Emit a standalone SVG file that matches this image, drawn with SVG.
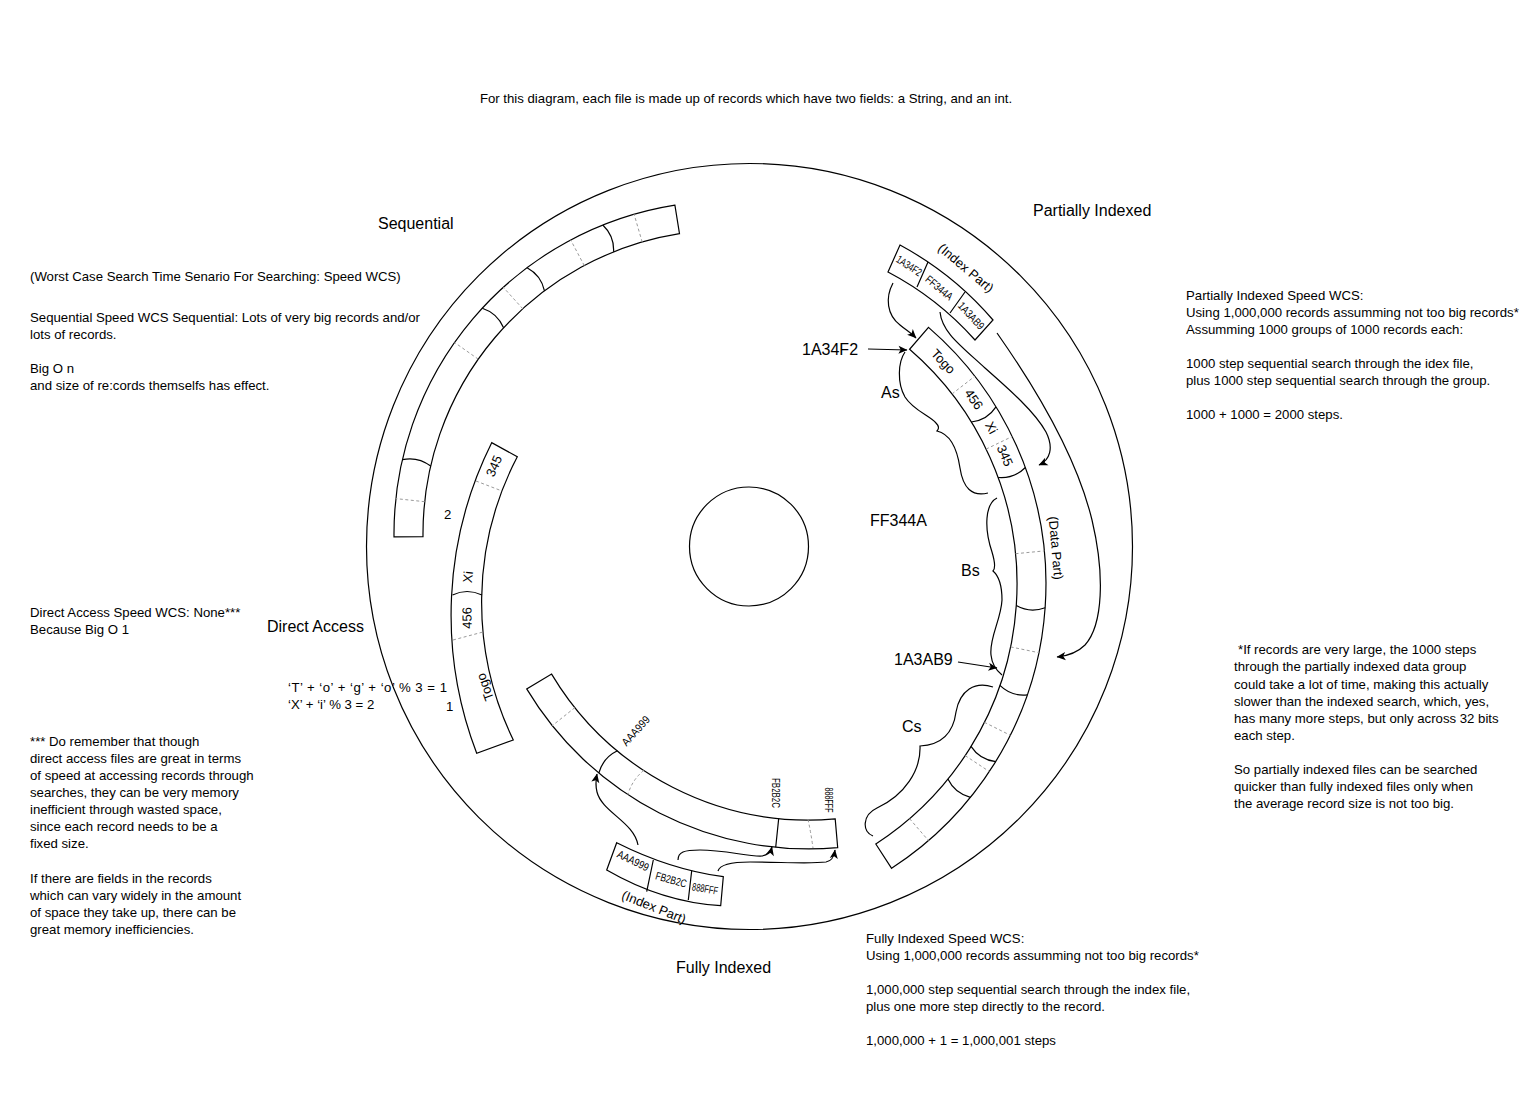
<svg xmlns="http://www.w3.org/2000/svg" width="1523" height="1118" viewBox="0 0 1523 1118">
<defs>
<style>
.ln{fill:none;stroke:#000;stroke-width:1.2}
.bd{fill:#fff;stroke:#000;stroke-width:1.2}
.ds{fill:none;stroke:#9a9a9a;stroke-width:1;stroke-dasharray:3,2.5}
text{font-family:"Liberation Sans",Arial,sans-serif;fill:#000}
.b{font-size:13.2px}
.h{font-size:16px}
.c{font-size:11px;text-anchor:middle}
.m{font-size:13px;text-anchor:middle}
</style>
<marker id="ah" viewBox="0 0 10 10" refX="9.5" refY="5" markerWidth="10" markerHeight="9" markerUnits="userSpaceOnUse" orient="auto">
<path d="M0,0.5 L10,5 L0,9.5 L2.5,5 z" fill="#000"/>
</marker>
</defs>
<rect width="1523" height="1118" fill="#fff"/>

<g id="disk">
<circle cx="749.5" cy="546.5" r="383" class="ln"/>
<circle cx="749" cy="546.5" r="59.5" class="ln"/>
</g>

<g id="sequential-band">
<path class="bd" d="M394,536.9 A333,333 0 0 1 674.9,205.1 L679.5,233.7 A304,304 0 0 0 423,536.6 Z"/>
<path class="ln" d="M613.6,251.9 Q614.4,236.1 602.8,225 M544.5,290.9 Q541.2,275.3 527.1,267.7 M503.6,327.8 Q497.5,313.2 482.3,308.2 M430.7,466.1 Q418.1,456.4 402.4,459.6"/>
<path class="ds" d="M642.2,242.1 L634.1,214.2 M584.3,265.6 L570.7,240 M522.8,308.8 L503.3,287.3 M478.3,359.2 L454.6,342.5 M424.7,501.7 L395.9,498.6"/>
</g>

<g id="direct-band">
<path class="bd" d="M491.7,442.7 A386,386 0 0 0 476.7,753.3 L513.3,740 A315,315 0 0 1 517.3,456.7 Z"/>
<path class="ln" d="M452.5,595 Q467,588 482,595"/>
<path class="ds" d="M476,481 L502,491 M453,640 L483,632"/>
<text class="m" transform="translate(494,466) rotate(-66)" y="4.5">345</text>
<text class="m" transform="translate(468,577) rotate(-84)" y="4.5">Xi</text>
<text class="m" transform="translate(467,618) rotate(-91)" y="4.5">456</text>
<text class="m" transform="translate(485,687) rotate(-110)" y="4.5">Togo</text>
</g>

<g id="fully-indexed-data">
<path class="bd" d="M526.7,688.9 A329,329 0 0 0 837.7,847.7 L835.2,818.9 A300,300 0 0 1 551.6,674.1 Z"/>
<path class="ln" d="M617.4,750.8 Q603.1,757.7 598.8,773.1 M778.7,818.5 L775.7,847.3"/>
<path class="ds" d="M643.8,770.4 Q632,780 627.9,794.7 M574.9,707.6 L552.2,725.7 M808,819.5 Q811,833 813,848"/>
<text class="c" transform="translate(636,731) rotate(-48)" y="3.5" textLength="36" lengthAdjust="spacingAndGlyphs">AAA999</text>
<text class="c" transform="translate(775,793) rotate(90)" y="3.5" textLength="30" lengthAdjust="spacingAndGlyphs">FB2B2C</text>
<text class="c" transform="translate(828,800) rotate(90)" y="3.5" textLength="25" lengthAdjust="spacingAndGlyphs">888FFF</text>
</g>

<g id="fully-indexed-index">
<path class="bd" d="M616.7,842.7 Q670,869.5 723.3,876.7 L720.7,905.7 Q662.3,902.2 606.7,870 Z"/>
<path class="ln" d="M653.3,860 L646.7,891.7 M691.7,870.7 L688.3,900"/>
<text class="c" transform="translate(633,861) rotate(26)" y="3.5" textLength="34" lengthAdjust="spacingAndGlyphs">AAA999</text>
<text class="c" transform="translate(671,880) rotate(16)" y="3.5" textLength="32" lengthAdjust="spacingAndGlyphs">FB2B2C</text>
<text class="c" transform="translate(705,889) rotate(10)" y="3.5" textLength="26" lengthAdjust="spacingAndGlyphs">888FFF</text>
<text class="m" transform="translate(654,907) rotate(22)" y="4.5">(Index Part)</text>
</g>

<g id="partially-indexed-index">
<path class="bd" d="M900,245 Q953.4,273.9 993,320 L975,340 Q937.7,298.1 888,272 Z"/>
<path class="ln" d="M928,262 L917,287 M965,292 L950,313"/>
<text class="c" transform="translate(909,266) rotate(33)" y="3.5" textLength="28" lengthAdjust="spacingAndGlyphs">1A34F2</text>
<text class="c" transform="translate(939,288) rotate(40)" y="3.5" textLength="32" lengthAdjust="spacingAndGlyphs">FF344A</text>
<text class="c" transform="translate(971,316) rotate(47)" y="3.5" textLength="33" lengthAdjust="spacingAndGlyphs">1A3AB9</text>
<text class="m" transform="translate(966,268) rotate(40)" y="4.5">(Index Part)</text>
</g>

<g id="partially-indexed-data">
<path class="bd" d="M928.5,327.4 A339,339 0 0 1 891.6,868.3 L875.8,844 A310,310 0 0 0 909.6,349.3 Z"/>
<path class="ln" d="M971.3,422 Q987.2,420.3 996,406.9 M998.1,477.5 Q1014,478.9 1025.4,467.5 M1016.3,605.6 Q1030.2,613.4 1045.2,607.7 M999.9,685.4 Q1011.4,696.6 1027.3,694.9 M971,746.4 Q979.8,759.8 995.7,761.6 M947.9,779.1 Q954.9,793.5 970.4,797.3"/>
<path class="ds" d="M952,394 L974.9,376.2 M986.1,449.1 L1012.2,436.5 M1015.5,553.7 L1044.4,550.9 M1010.6,646.9 L1038.9,652.7 M984.4,722.3 L1010.4,735.3 M965.2,755.6 L989.4,771.6 M909.6,818.7 L928.5,840.6"/>
<text class="m" transform="translate(943.2,361.5) rotate(46.7)" y="4.5">Togo</text>
<text class="m" transform="translate(973.8,399.3) rotate(55.3)" y="4.5">456</text>
<text class="m" transform="translate(991.4,427.7) rotate(61.2)" y="4.5">Xi</text>
<text class="m" transform="translate(1005,455.7) rotate(66.7)" y="4.5">345</text>
<text class="m" transform="translate(1056,548) rotate(85)" y="4.5">(Data Part)</text>
</g>

<g id="connectors">
<path class="ln" marker-end="url(#ah)" d="M638,845 C634,822 602,812 597,792 C595,784 596,779 597,774"/>
<path class="ln" marker-end="url(#ah)" d="M678,860 C678,852 684,850 700,850 C725,850 750,857 762,856 C768,855 771,851 772,847"/>
<path class="ln" marker-end="url(#ah)" d="M718,871 C720,864 732,862 750,862 C780,862 810,864 826,862 C832,861 834,857 835,850"/>
<path class="ln" marker-end="url(#ah)" d="M868,349 L907,350"/>
<path class="ln" marker-end="url(#ah)" d="M893,283 C885,298 887,315 900,325 C906,330 911,333 916,338"/>
<path class="ln" marker-end="url(#ah)" d="M940,312 C942,332 960,345 985,368 C1010,390 1035,412 1046,432 C1054,448 1050,460 1039,465"/>
<path class="ln" marker-end="url(#ah)" d="M997,333 C1030,380 1075,450 1092,520 C1105,575 1103,625 1085,645 C1077,653 1067,656 1057,657"/>
<path class="ln" marker-end="url(#ah)" d="M958,662 L997,668"/>
<path class="ln" d="M905,352 C898,362 897,383 905,397 C913,410 930,416 936,423 C939,426 939,429 937,431 C950,434 957,448 960,468 C963,488 972,497 988,493"/>
<path class="ln" d="M997,498 C985,504 984,528 992,552 C995,562 996,568 993,571 C1000,577 1002,588 1002,600 C1001,620 989,638 991,655 C992,665 997,671 1002,675"/>
<path class="ln" d="M993,687 C975,681 960,690 956,712 C953,735 940,745 920,746 C921,770 905,795 877,808 C862,815 862,832 873,836"/>
</g>

<g id="labels">
<text class="b" x="746" y="103" text-anchor="middle">For this diagram, each file is made up of records which have two fields: a String, and an int.</text>
<text class="h" x="378" y="229">Sequential</text>
<text class="h" x="1033" y="216">Partially Indexed</text>
<text class="h" x="267" y="632">Direct Access</text>
<text class="h" x="676" y="973">Fully Indexed</text>
<text class="h" x="802" y="355">1A34F2</text>
<text class="h" x="881" y="398">As</text>
<text class="h" x="870" y="526">FF344A</text>
<text class="h" x="961" y="576">Bs</text>
<text class="h" x="894" y="665">1A3AB9</text>
<text class="h" x="902" y="732">Cs</text>
<text class="b" x="444" y="519">2</text>
<text class="b" x="446" y="711">1</text>
<text class="b" x="288" y="692" textLength="159">‘T’ + ‘o’ + ‘g’ + ‘o’ % 3 = 1</text>
<text class="b" x="288" y="709">‘X’ + ‘i’ % 3 = 2</text>
</g>

<g id="notes-left">
<text class="b" x="30" y="281">(Worst Case Search Time Senario For Searching: Speed WCS)</text>
<text class="b" x="30" y="322">Sequential Speed WCS Sequential: Lots of very big records and/or</text>
<text class="b" x="30" y="339">lots of records.</text>
<text class="b" x="30" y="373">Big O n</text>
<text class="b" x="30" y="390">and size of re:cords themselfs has effect.</text>
<text class="b" x="30" y="617">Direct Access Speed WCS: None***</text>
<text class="b" x="30" y="634">Because Big O 1</text>
<text class="b" x="30" y="746">*** Do remember that though</text>
<text class="b" x="30" y="763">direct access files are great in terms</text>
<text class="b" x="30" y="780">of speed at accessing records through</text>
<text class="b" x="30" y="797">searches, they can be very memory</text>
<text class="b" x="30" y="814">inefficient through wasted space,</text>
<text class="b" x="30" y="831">since each record needs to be a</text>
<text class="b" x="30" y="848">fixed size.</text>
<text class="b" x="30" y="883">If there are fields in the records</text>
<text class="b" x="30" y="900">which can vary widely in the amount</text>
<text class="b" x="30" y="917">of space they take up, there can be</text>
<text class="b" x="30" y="934">great memory inefficiencies.</text>
</g>

<g id="notes-right">
<text class="b" x="1186" y="300">Partially Indexed Speed WCS:</text>
<text class="b" x="1186" y="317">Using 1,000,000 records assumming not too big records*</text>
<text class="b" x="1186" y="334">Assumming 1000 groups of 1000 records each:</text>
<text class="b" x="1186" y="368">1000 step sequential search  through the idex file,</text>
<text class="b" x="1186" y="385">plus 1000 step sequential search through the group.</text>
<text class="b" x="1186" y="419">1000 + 1000 = 2000 steps.</text>
<text class="b" x="1238" y="654">*If records are very large, the 1000 steps</text>
<text class="b" x="1234" y="671">through the partially indexed data group</text>
<text class="b" x="1234" y="689">could take a lot of time, making this actually</text>
<text class="b" x="1234" y="706">slower than the indexed search, which, yes,</text>
<text class="b" x="1234" y="723">has many more steps, but only across 32 bits</text>
<text class="b" x="1234" y="740">each step.</text>
<text class="b" x="1234" y="774">So partially indexed files can be searched</text>
<text class="b" x="1234" y="791">quicker than fully indexed files only when</text>
<text class="b" x="1234" y="808">the average record size is not too big.</text>
<text class="b" x="866" y="943">Fully Indexed Speed WCS:</text>
<text class="b" x="866" y="960">Using 1,000,000 records assumming not too big records*</text>
<text class="b" x="866" y="994">1,000,000 step sequential search through the index file,</text>
<text class="b" x="866" y="1011">plus one more step directly to the record.</text>
<text class="b" x="866" y="1045">1,000,000 + 1 = 1,000,001 steps</text>
</g>
</svg>
